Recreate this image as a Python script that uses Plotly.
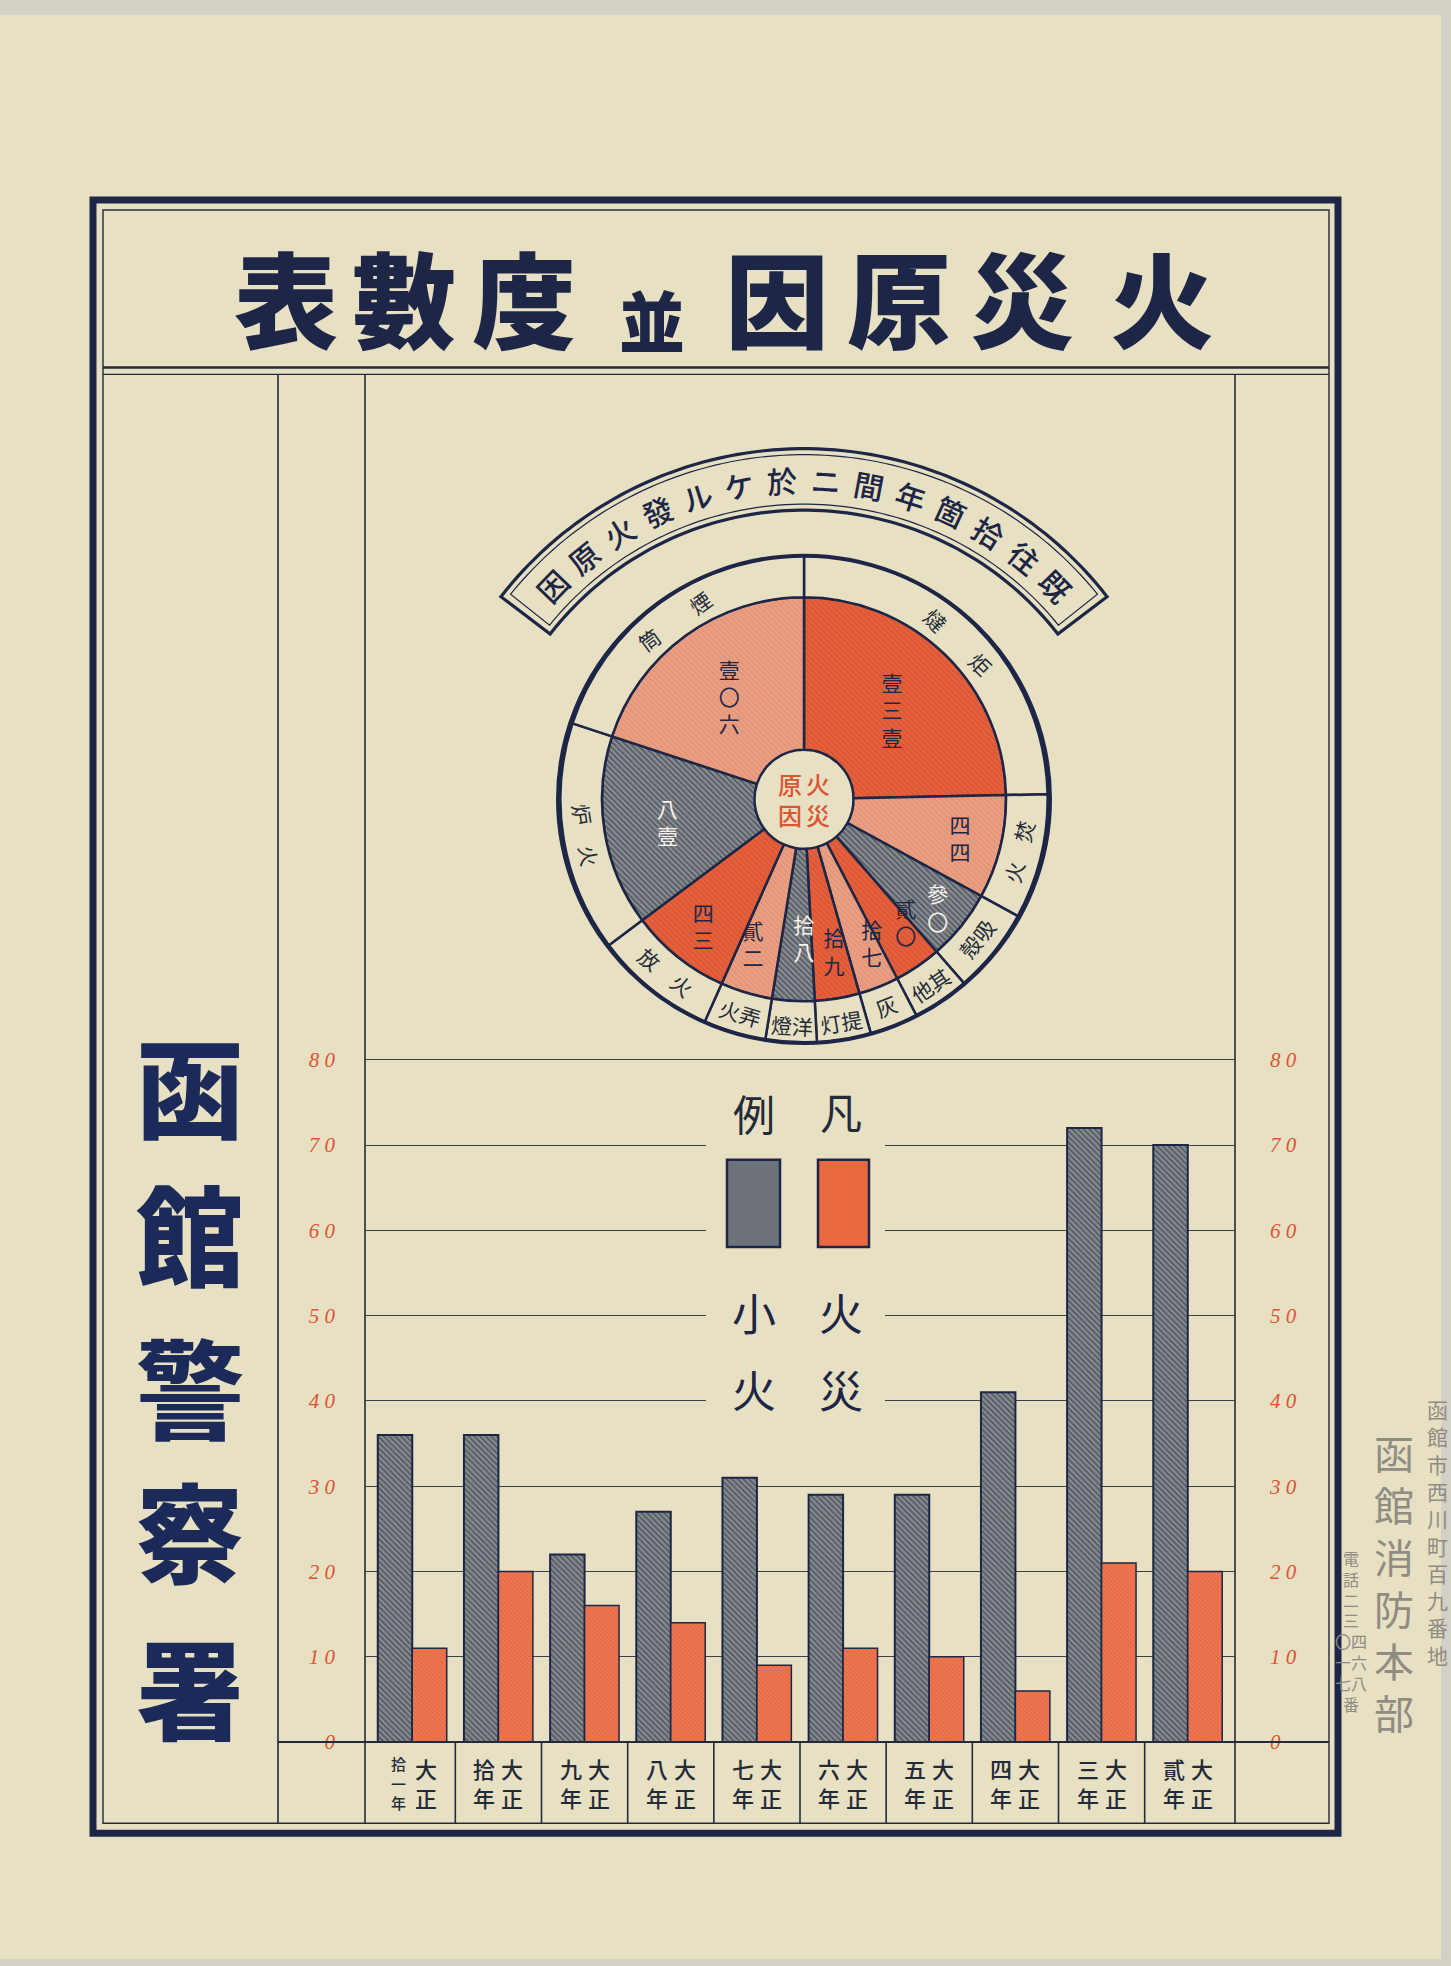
import numpy as np
import plotly.graph_objects as go

W, H = 1451, 1966

# ---------------- data ----------------
years = ["大正拾一年", "大正拾年", "大正九年", "大正八年", "大正七年",
         "大正六年", "大正五年", "大正四年", "大正三年", "大正貳年"]
small_fires = [36, 36, 22, 27, 31, 29, 29, 41, 72, 70]   # 小火
fires = [11, 20, 16, 14, 9, 11, 10, 6, 21, 20]           # 火災
series_names = ["小火", "火災"]
y_ticks = [0, 10, 20, 30, 40, 50, 60, 70, 80]
y_tick_text = ["0", "1 0", "2 0", "3 0", "4 0", "5 0", "6 0", "7 0", "8 0"]

causes = ["炬燵", "焚火", "吸殼", "其他", "灰", "提灯", "洋燈", "弄火", "放火", "炉火", "煙筒"]
cause_counts = [131, 44, 30, 20, 17, 19, 18, 22, 43, 81, 106]
cause_count_kanji = ["壹三壹", "四四", "參〇", "貳〇", "拾七", "拾九", "拾八", "貳二", "四三", "八壹", "壹〇六"]
cause_ring_text = ["燵　　炬", "火　焚", "殼吸", "他其", "灰", "灯提", "燈洋", "火弄", "放　火", "炉　火", "筒　　煙"]
cause_tone = ["deep", "light", "gray", "deep", "light", "deep", "gray", "light", "deep", "gray", "light"]

title_text = "火災原因並度數表"
pie_title = "既往拾箇年間ニ於ケル發火原因"
center_text = "火災原因"
author_text = "函館警察署"
legend_heading = "凡例"
stamp_lines = ["函館市西川町百九番地", "函館消防本部", "電話二三〇四一六七八番"]

# ---------------- style ----------------
NAVY = "#1d2646"
INK = "#232a3a"
PAPER = "#e7e0c2"
OUTSIDE = "#d3d0c6"
RED_TXT = "#dc5433"
FONT = "Noto Sans CJK JP, Noto Sans CJK TC, sans-serif"


def X(px):
    return px / W


def Y(py):
    return 1 - py / H


shapes = []
annotations = []


def add_line(x0, y0, x1, y1, w, color=NAVY, layer="above"):
    shapes.append(dict(type="line", xref="paper", yref="paper",
                       x0=X(x0), y0=Y(y0), x1=X(x1), y1=Y(y1),
                       line=dict(color=color, width=w), layer=layer))


def add_rect(x0, y0, x1, y1, fill=None, lw=0, color=NAVY, layer="above"):
    shapes.append(dict(type="rect", xref="paper", yref="paper",
                       x0=X(x0), y0=Y(y0), x1=X(x1), y1=Y(y1),
                       fillcolor=fill if fill else "rgba(0,0,0,0)",
                       line=dict(color=color, width=lw), layer=layer))


def add_text(px, py, text, size, color=NAVY, weight=400, angle=0, family=FONT, style="normal"):
    annotations.append(dict(x=X(px), y=Y(py), xref="paper", yref="paper", text=text,
                            showarrow=False, textangle=angle, xanchor="center", yanchor="middle",
                            font=dict(family=family, size=size, color=color, weight=weight, style=style)))


# ---------------- page & frame ----------------
add_rect(0, 8, 1441, H + 5, fill=PAPER, layer="below")
add_rect(93, 195, 1338, 1844, lw=7, layer="above")
add_rect(103, 205, 1329, 1834, lw=1.4, color=INK, layer="above")
add_line(103, 364, 1329, 364, 2.6, INK)
add_line(103, 371, 1329, 371, 1.2, INK)
add_line(278, 371, 278, 1834, 1.6, INK)
add_line(365, 371, 365, 1834, 1.6, INK)
add_line(1235, 371, 1235, 1834, 1.6, INK)
add_line(278, 1752, 1329, 1752, 2.0, INK)

# bar chart geometry
BASE_PY = 1752
PX_PER_UNIT = (1752 - 1063) / 80.0
Y_TOP = 80.5
TOP_PY = BASE_PY - Y_TOP * PX_PER_UNIT

# category cell separators in the label row
for i in range(len(years) - 1):
    shapes.append(dict(type="line", xref="x", yref="paper", x0=i + 0.5, x1=i + 0.5,
                       y0=Y(1752), y1=Y(1834), line=dict(color=INK, width=1.6), layer="above"))

# ---------------- title ----------------
title_x = [286, 404, 524, 652, 777, 899, 1022, 1162]
for ch, tx in zip(title_text[::-1], title_x):
    if ch == "並":
        add_text(tx, 314, ch, 66, weight=900)
    else:
        add_text(tx, 291, ch, 104, weight=900)

# ---------------- left column ----------------
author_y = [1086, 1236, 1390, 1536, 1694]
for ch, ay in zip(author_text, author_y):
    add_text(190, ay, ch, 108, color="#1b2a58", weight=900)

# ---------------- stamp (outside frame) ----------------
STAMP = "#8f8c84"
add_text(1437, 1540, "<br>".join(stamp_lines[0]), 21, color=STAMP)
add_text(1394, 1590, "<br>".join(stamp_lines[1]), 40, color=STAMP)
small_col = ["電", "話", "二", "三", "〇四", "一六", "七八", "番"]
add_text(1351, 1640, "<br>".join(small_col), 16, color=STAMP)

# ---------------- pie geometry ----------------
PCX, PCY = 804, 800
R_IN = 204
R_OUT = 246
R_HOLE = 50

# outer ring circle (thicker)
shapes.append(dict(type="circle", xref="paper", yref="paper",
                   x0=X(PCX - R_OUT), x1=X(PCX + R_OUT), y0=Y(PCY + R_OUT), y1=Y(PCY - R_OUT),
                   line=dict(color=NAVY, width=4), layer="above"))

# banner arc
BCX, BCY = 804, 828
BR_O, BR_I = 382, 320
A0, A1 = 37.5, 142.5


def arc(r, a0, a1, n=80):
    t = np.radians(np.linspace(a0, a1, n))
    return [(BCX + r * np.cos(a), BCY - r * np.sin(a)) for a in t]


def banner_path(ro, ri, a0, a1):
    pts = arc(ro, a0, a1) + arc(ri, a1, a0)
    s = "M " + " L ".join(f"{X(px):.5f},{Y(py):.5f}" for px, py in pts) + " Z"
    return s


shapes.append(dict(type="path", xref="paper", yref="paper", path=banner_path(BR_O, BR_I, A0, A1),
                   line=dict(color=NAVY, width=3.2), fillcolor="rgba(0,0,0,0)", layer="above"))
shapes.append(dict(type="path", xref="paper", yref="paper", path=banner_path(BR_O - 6, BR_I + 6, A0 + 1.2, A1 - 1.2),
                   line=dict(color=NAVY, width=1.2), fillcolor="rgba(0,0,0,0)", layer="above"))

R_TXT = (BR_O + BR_I) / 2
n_ch = len(pie_title)
ang = np.linspace(44, 136, n_ch)
for ch, a in zip(pie_title, ang):
    px = BCX + R_TXT * np.cos(np.radians(a))
    py = BCY - R_TXT * np.sin(np.radians(a))
    add_text(px, py, ch, 30, color=NAVY, weight=500, angle=90 - a)

# center hole text (vertical, right-to-left columns)
add_text(PCX + 14, PCY, "<br>".join(center_text[:2]), 24, color=RED_TXT, weight=500)
add_text(PCX - 14, PCY, "<br>".join(center_text[2:]), 24, color=RED_TXT, weight=500)

# ---------------- legend (凡例) ----------------
add_rect(706, 1086, 885, 1432, fill=PAPER, lw=0, layer="above")
add_text(841, 1114, legend_heading[0], 42, color=INK)
add_text(754, 1116, legend_heading[1], 42, color=INK)
add_rect(727, 1164, 780, 1252, fill="#6e737a", lw=2.5, color=NAVY)
add_rect(818, 1164, 869, 1252, fill="#e8693f", lw=2.5, color=NAVY)
for col_x, name in [(754, series_names[0]), (841, series_names[1])]:
    add_text(col_x, 1318, name[0], 44, color=NAVY)
    add_text(col_x, 1395, name[1], 44, color=NAVY)

# ---------------- x labels (two vertical columns, right-to-left) ----------------
LBL_PY = 1793
for yr in years:
    era, rest = yr[:2], yr[2:]
    annotations.append(dict(x=yr, xref="x", y=Y(LBL_PY), yref="paper", xshift=14,
                            xanchor="center", yanchor="middle",
                            text="<br>".join(era), showarrow=False,
                            font=dict(family=FONT, size=22, color=INK, weight=500)))
    fs = 22 if len(rest) == 2 else 15
    annotations.append(dict(x=yr, xref="x", y=Y(LBL_PY), yref="paper", xshift=-14,
                            xanchor="center", yanchor="middle",
                            text="<br>".join(rest), showarrow=False,
                            font=dict(family=FONT, size=fs, color=INK, weight=500)))

# ---------------- traces ----------------
fig = go.Figure()
fig.add_trace(go.Bar(
    x=years, y=small_fires, name=series_names[0], hoverinfo="skip",
    marker=dict(color="#8c8f8f", line=dict(color=NAVY, width=2),
                pattern=dict(shape="\\", fgcolor="#1f2a40", size=4, solidity=0.5, fillmode="overlay"))))
fig.add_trace(go.Bar(
    x=years, y=fires, name=series_names[1], hoverinfo="skip",
    marker=dict(color="#ee7852", line=dict(color=NAVY, width=1.5),
                pattern=dict(shape="\\", fgcolor="#d6472a", size=3, solidity=0.3, fillmode="overlay"))))
fig.add_trace(go.Scatter(x=years, y=small_fires, yaxis="y2", mode="markers",
                         marker=dict(opacity=0), hoverinfo="skip", showlegend=False))

tone_color = {"deep": "#e4613d", "light": "#e99f83", "gray": "#8e9191"}
tone_fg = {"deep": "#cc4226", "light": "#db8164", "gray": "#1f2a40"}
tone_sol = {"deep": 0.3, "light": 0.3, "gray": 0.5}
tone_txt = {"deep": NAVY, "light": NAVY, "gray": "#f7f3ea"}

# vertical (top-to-bottom) numerals; narrow wedges get blank trailing lines so the
# visible characters sit further inside the wedge instead of under the outer ring
total = float(sum(cause_counts))
pie_text = []
for s, v in zip(cause_count_kanji, cause_counts):
    lines = list(s)
    if v / total < 0.05:
        lines += ["　", "　"]
    pie_text.append("<br>".join(lines))

fig.add_trace(go.Pie(
    values=cause_counts, labels=causes, text=pie_text,
    textinfo="text", textposition="inside", insidetextorientation="horizontal",
    sort=False, direction="clockwise", rotation=0, hole=R_HOLE / R_IN,
    domain=dict(x=[X(PCX - R_IN), X(PCX + R_IN)], y=[Y(PCY + R_IN), Y(PCY - R_IN)]),
    marker=dict(colors=[tone_color[t] for t in cause_tone],
                line=dict(color=NAVY, width=2.5),
                pattern=dict(shape=["\\"] * len(causes), fgcolor=[tone_fg[t] for t in cause_tone],
                             solidity=[tone_sol[t] for t in cause_tone], size=4, fillmode="overlay")),
    textfont=dict(family=FONT, size=21, color=[tone_txt[t] for t in cause_tone]),
    showlegend=False, hoverinfo="skip"))

fig.add_trace(go.Pie(
    values=cause_counts, labels=causes, text=cause_ring_text,
    textinfo="text", textposition="inside", insidetextorientation="tangential",
    sort=False, direction="clockwise", rotation=0, hole=R_IN / R_OUT,
    domain=dict(x=[X(PCX - R_OUT), X(PCX + R_OUT)], y=[Y(PCY + R_OUT), Y(PCY - R_OUT)]),
    marker=dict(colors=[PAPER] * len(causes), line=dict(color=NAVY, width=2.5)),
    textfont=dict(family=FONT, size=21, color=INK),
    showlegend=False, hoverinfo="skip"))

tickfont = dict(family="Liberation Serif, DejaVu Serif, serif", size=21, color=RED_TXT, style="italic")

fig.update_layout(
    width=W, height=H,
    margin=dict(l=0, r=0, t=0, b=0, pad=0),
    paper_bgcolor=OUTSIDE, plot_bgcolor="rgba(0,0,0,0)",
    barmode="group", bargap=0.2, bargroupgap=0, showlegend=False,
    uniformtext=dict(minsize=21, mode="show"),
    xaxis=dict(domain=[X(365), X(1235)], type="category", showticklabels=False,
               showgrid=False, zeroline=False, showline=False, ticks="", fixedrange=True),
    yaxis=dict(domain=[Y(BASE_PY), Y(TOP_PY)], range=[0, Y_TOP], tickvals=y_ticks, ticktext=y_tick_text,
               showgrid=True, gridcolor="#3b3f49", gridwidth=1.3, zeroline=False, showline=False,
               ticks="", tickfont=tickfont, ticklabelstandoff=29, fixedrange=True),
    yaxis2=dict(overlaying="y", side="right", anchor="x", range=[0, Y_TOP], tickvals=y_ticks,
                ticktext=y_tick_text, showgrid=False, zeroline=False, showline=False, ticks="",
                tickfont=tickfont, ticklabelstandoff=34, fixedrange=True),
    shapes=shapes, annotations=annotations,
)

fig.write_html("out.html")
